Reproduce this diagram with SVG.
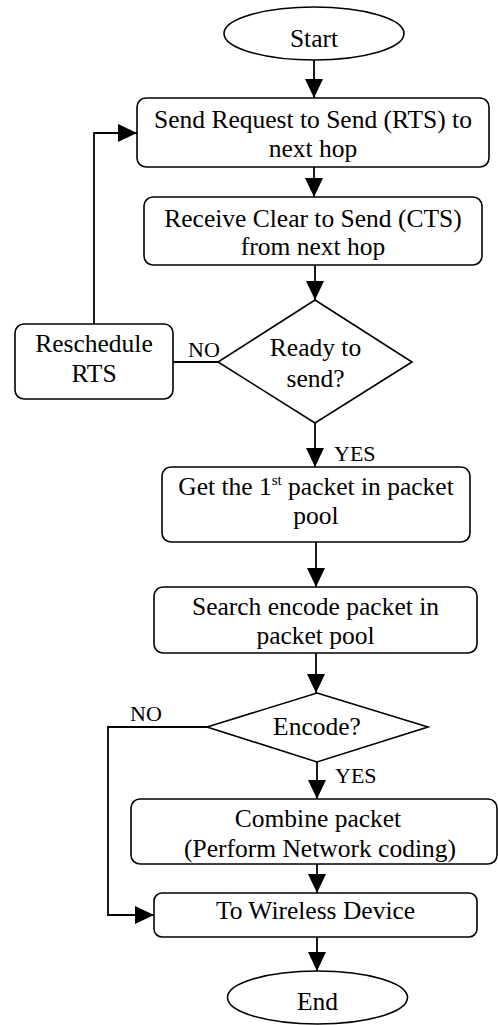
<svg xmlns="http://www.w3.org/2000/svg" width="498" height="1025" viewBox="0 0 498 1025">
<style>
.n{fill:#fff;stroke:#000;stroke-width:1.6}
.t{font-family:"Liberation Serif","Times New Roman",serif;font-size:25.5px;text-anchor:middle;fill:#000}
.l{font-family:"Liberation Serif","Times New Roman",serif;font-size:22px;fill:#000}
.c{fill:none;stroke:#000;stroke-width:1.8}
</style>
<defs>
<marker id="ah" markerWidth="19" markerHeight="18" refX="19" refY="9" orient="auto" markerUnits="userSpaceOnUse">
<path d="M0,0 L19,9 L0,18 Z" fill="#000"/>
</marker>
</defs>
<rect width="498" height="1025" fill="#fff"/>
<g id="connectors">
<line class="c" x1="314" y1="60" x2="314" y2="98" marker-end="url(#ah)"/>
<line class="c" x1="314" y1="167" x2="314" y2="197" marker-end="url(#ah)"/>
<line class="c" x1="315" y1="265" x2="315" y2="300" marker-end="url(#ah)"/>
<line class="c" x1="218" y1="362" x2="173" y2="362"/>
<polyline class="c" points="94,324 94,133 137,133" marker-end="url(#ah)"/>
<line class="c" x1="315" y1="423" x2="315" y2="467" marker-end="url(#ah)"/>
<line class="c" x1="316" y1="542" x2="316" y2="587" marker-end="url(#ah)"/>
<line class="c" x1="316" y1="653" x2="316" y2="693" marker-end="url(#ah)"/>
<polyline class="c" points="207,727 108,727 108,915 154,915" marker-end="url(#ah)"/>
<line class="c" x1="317" y1="762" x2="317" y2="799" marker-end="url(#ah)"/>
<line class="c" x1="317" y1="864" x2="317" y2="893" marker-end="url(#ah)"/>
<line class="c" x1="317" y1="937" x2="317" y2="971" marker-end="url(#ah)"/>
<text class="l" x="188" y="357">NO</text>
<text class="l" x="334" y="461">YES</text>
<text class="l" x="130" y="721">NO</text>
<text class="l" x="335" y="783">YES</text>
</g>
<g id="start">
<ellipse class="n" cx="314" cy="33.5" rx="90" ry="26.5"/>
<text class="t" x="314" y="47">Start</text>
</g>
<g id="send-rts">
<rect class="n" x="137" y="98" width="352" height="69" rx="9"/>
<text class="t" x="313" y="128">Send Request to Send (RTS) to</text>
<text class="t" x="313" y="157">next hop</text>
</g>
<g id="receive-cts">
<rect class="n" x="144" y="197" width="338" height="68" rx="9"/>
<text class="t" x="313" y="227">Receive Clear to Send (CTS)</text>
<text class="t" x="313" y="255">from next hop</text>
</g>
<g id="ready">
<polygon class="n" points="315,300 412,362 315,423 218,362"/>
<text class="t" x="315.5" y="356">Ready to</text>
<text class="t" x="315.5" y="387">send?</text>
</g>
<g id="reschedule">
<rect class="n" x="15" y="324" width="158" height="75" rx="9"/>
<text class="t" x="94" y="352">Reschedule</text>
<text class="t" x="94" y="382">RTS</text>
</g>
<g id="get-first">
<rect class="n" x="162" y="467" width="308" height="75" rx="9"/>
<text class="t" x="316" y="495">Get the 1<tspan font-size="15" dy="-10">st</tspan><tspan dy="10"> packet in packet</tspan></text>
<text class="t" x="316" y="524">pool</text>
</g>
<g id="search">
<rect class="n" x="154" y="587" width="323" height="66" rx="9"/>
<text class="t" x="315.5" y="615">Search encode packet in</text>
<text class="t" x="315.5" y="644">packet pool</text>
</g>
<g id="encode">
<polygon class="n" points="317,693 428,727 317,762 207,727"/>
<text class="t" x="317" y="735">Encode?</text>
</g>
<g id="combine">
<rect class="n" x="131" y="799" width="366" height="65" rx="9"/>
<text class="t" x="318" y="827">Combine packet</text>
<text class="t" x="320" y="857">(Perform Network coding)</text>
</g>
<g id="wireless">
<rect class="n" x="154" y="893" width="323" height="44" rx="8"/>
<text class="t" x="315.5" y="919">To Wireless Device</text>
</g>
<g id="end">
<ellipse class="n" cx="317.5" cy="997.5" rx="90" ry="26.5"/>
<text class="t" x="317.5" y="1010">End</text>
</g>
</svg>
